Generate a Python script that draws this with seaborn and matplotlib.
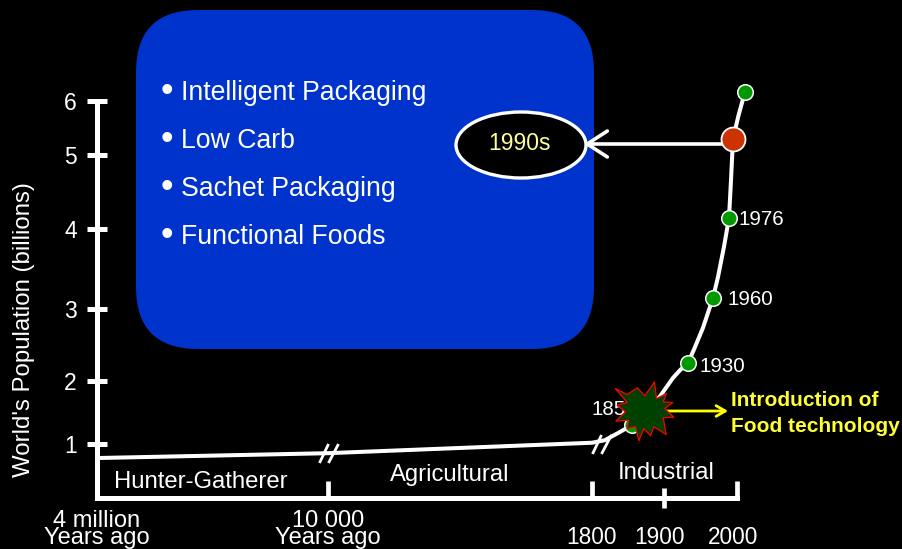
import numpy as np
import pandas as pd
import matplotlib
matplotlib.use("Agg")
import matplotlib.pyplot as plt
import seaborn as sns
from matplotlib.patches import FancyBboxPatch, Ellipse
from matplotlib.path import Path
from matplotlib.transforms import Affine2D, ScaledTranslation

# Population curve: calendar year and world population in billions
curve_years = [-4000000, -8000, 1800, 1816, 1832, 1850, 1878, 1894, 1911, 1920, 1930, 1938,
               1948, 1960, 1965, 1971, 1976, 1983, 1990, 2002, 2010]
curve_pop = [0.74, 0.83, 1.02, 1.06, 1.17, 1.30, 1.59, 1.76, 2.04, 2.15, 2.25, 2.46,
             2.74, 3.14, 3.40, 3.78, 4.15, 4.66, 5.30, 5.74, 6.17]

# Highlighted points on the curve
mark_years = [1850, 1930, 1960, 1976, 2010]
mark_pop = [1.30, 2.25, 3.14, 4.15, 6.17]
mark_labels = ["1850", "1930", "1960", "1976", ""]
highlight_year = 1990
highlight_pop = 5.30
food_tech_year = 1871
food_tech_pop = 1.56
break_years = [-8000, 1811]
break_pop = [0.84, 1.00]

# Axis ticks and text
pop_ticks = [1, 2, 3, 4, 5, 6]
year_ticks = [-4000000, -8000, 1800, 2000]
year_tick_labels = ["4 million\nYears ago", "10 000\nYears ago", "1800", "2000"]
minor_year_tick = 1900
eras = ["Hunter-Gatherer", "Agricultural", "Industrial"]
trends = ["Intelligent Packaging", "Low Carb", "Sachet Packaging", "Functional Foods"]

W, H = 903, 549
# The axes are schematic: each axis runs through its own piecewise scale
X_KNOTS_YEAR = [-5.7e6, -4e6, -8000, 1800, 1850, 1900, 1930, 1960, 1976, 1990, 2000, 2010, 2210]
X_KNOTS_POS = [0, 97, 328, 592, 632, 664, 688, 713, 729, 733, 737, 745, 903]
Y_KNOTS_POP = [-0.95, 0, 1, 2, 3, 4, 5, 6, 7.87]
Y_KNOTS_POS = [0, 51, 105, 168, 240, 320, 394, 448, 549]


def x_fwd(v):
    return np.interp(v, X_KNOTS_YEAR, X_KNOTS_POS)


def x_inv(v):
    return np.interp(v, X_KNOTS_POS, X_KNOTS_YEAR)


def y_fwd(v):
    return np.interp(v, Y_KNOTS_POP, Y_KNOTS_POS)


def y_inv(v):
    return np.interp(v, Y_KNOTS_POS, Y_KNOTS_POP)


sns.set_theme(style="white", rc={
    "figure.facecolor": "black", "axes.facecolor": "black",
    "text.color": "white", "xtick.color": "white", "ytick.color": "white",
    "axes.edgecolor": "white", "axes.labelcolor": "white",
})
plt.rcParams["font.family"] = ["Liberation Sans", "DejaVu Sans"]

fig = plt.figure(figsize=(W / 100, H / 100), dpi=100)
ax = fig.add_axes([0, 0, 1, 1])
ax.set_xscale("function", functions=(x_fwd, x_inv))
ax.set_yscale("function", functions=(y_fwd, y_inv))
ax.set_xlim(X_KNOTS_YEAR[0], X_KNOTS_YEAR[-1])
ax.set_ylim(Y_KNOTS_POP[0], Y_KNOTS_POP[-1])

# Top-left pixel frame for the annotation layer
screen = Affine2D().scale(1, -1).translate(0, H)

# Blue panel with the trend list and the decade callout
panel = FancyBboxPatch((136, 10), 458, 339, boxstyle="round,pad=0,rounding_size=62",
                       transform=screen, fc="#0033CC", ec="none", zorder=1)
ax.add_patch(panel)
for i, item in enumerate(trends):
    y = 93 + 48 * i
    ax.text(160.5, y - 1, "•", transform=screen, fontsize=26, va="center", ha="left", zorder=2)
    ax.text(181, y, item, transform=screen, fontsize=19.2, va="center", ha="left", zorder=2)
ax.add_patch(Ellipse((521, 145), 130, 66, transform=screen, fc="black", ec="white",
                     lw=2.4, zorder=2))
ax.text(520, 144, "1990s", transform=screen, fontsize=16.5, color="#FFFF99",
        va="center", ha="center", zorder=3)

# Era names
for name, x, y in zip(eras, [201, 450, 666], [482, 475, 473]):
    ax.text(x, y, name, transform=screen, fontsize=17.2, ha="center", va="center", zorder=2)

# Population curve and its points
curve = pd.DataFrame({"year": curve_years, "population": curve_pop})
sns.lineplot(data=curve, x="year", y="population", sort=False, errorbar=None,
             color="white", linewidth=2.9, ax=ax, zorder=3, solid_capstyle="round")
marks = pd.DataFrame({"year": mark_years, "population": mark_pop})
sns.scatterplot(data=marks, x="year", y="population", color="#009900", s=125,
                edgecolor="white", linewidth=1.1, ax=ax, zorder=4, legend=False)

# Axis frame
ax.spines["top"].set_visible(False)
ax.spines["right"].set_visible(False)
ax.spines["left"].set_position(("data", -4000000))
ax.spines["left"].set_bounds(0, 6)
ax.spines["bottom"].set_position(("data", 0))
ax.spines["bottom"].set_bounds(-4000000, 2000)
ax.spines["left"].set_linewidth(3.6)
ax.spines["bottom"].set_linewidth(3.6)

ax.set_yticks(pop_ticks)
ax.set_yticklabels([str(p) for p in pop_ticks], fontsize=16.5)
ax.tick_params(axis="y", which="major", left=True, direction="inout", length=15, width=3.6, pad=7)
ax.set_xticks(year_ticks)
ax.set_xticklabels(year_tick_labels, fontsize=17, linespacing=0.74)
ax.set_xticks([minor_year_tick], minor=True)
ax.set_xticklabels([str(minor_year_tick)], minor=True, fontsize=16.3)
ax.tick_params(axis="x", which="major", bottom=True, direction="in", length=12, width=3.4)
ax.tick_params(axis="x", which="minor", bottom=True, direction="inout", length=15, width=3.4, pad=12.5)
major_ticks = ax.xaxis.get_major_ticks()
for tick, pad in zip(major_ticks, [8.5, 8.5, 20, 20]):
    tick.set_pad(pad)
for tick in major_ticks[2:]:
    tick.label1.set_fontsize(16.3)
shift_left = ScaledTranslation(-4 / 100, 0, fig.dpi_scale_trans)
for label in (major_ticks[-1].label1, ax.xaxis.get_minor_ticks()[0].label1):
    label.set_transform(label.get_transform() + shift_left)

ax.set_xlabel("")
ax.set_ylabel("World's Population (billions)", fontsize=17.3)
ax.yaxis.set_label_coords(35 / W, 1 - 330 / H)

# Decade labels beside the points
offsets = [(-40, 16), (12, -3), (15, -2), (10, -2), (0, 0)]
for yr, pop, text, off in zip(mark_years, mark_pop, mark_labels, offsets):
    if text:
        ax.annotate(text, (yr, pop), xytext=off, textcoords="offset pixels", fontsize=14.8,
                    ha="left", va="center", zorder=2.5)

# Axis-break marks on the curve
slashes = Path([(-9, -9.5), (0, 9.5), (0, -9.5), (10, 9.5)],
               [Path.MOVETO, Path.LINETO, Path.MOVETO, Path.LINETO])
ax.plot(break_years, break_pop, ls="none", marker=slashes, ms=14.4, mew=2.0,
        mfc="none", mec="white", zorder=5)

# Callout arrow from the highlighted decade
ax.annotate("", xy=(584, 144), xycoords=screen, xytext=(725, 144), textcoords=screen,
            arrowprops=dict(arrowstyle="->,head_length=1.2,head_width=0.78", color="white",
                            lw=2.6, shrinkA=0, shrinkB=0), zorder=3)
ax.scatter([highlight_year], [highlight_pop], s=298, color="#CC3300", edgecolor="white",
           linewidth=1.3, zorder=4)

# Food-technology burst and its label
ax.annotate("", xy=(728, 411), xycoords=screen, xytext=(665, 411), textcoords=screen,
            arrowprops=dict(arrowstyle="->,head_length=0.55,head_width=0.32", color="#FFFF00",
                            lw=2.0, shrinkA=0, shrinkB=0), zorder=5)
burst_outline = [(-30.3, 21), (-18.3, 15), (-8.3, 21.7), (-0.7, 13.7), (9, 27.7), (11, 11),
                 (21, 16), (17.7, 7.7), (27.3, 7), (19.3, 1), (28.3, -7.7), (17.7, -8.3),
                 (20.7, -25), (8.3, -17.3), (5, -26.3), (-1.7, -19), (-6.7, -31.3), (-10, -17.3),
                 (-18.3, -19), (-16.7, -10.7), (-29.7, -11.7), (-20, -2.3), (-28.3, 4.3), (-18.3, 7)]
burst = Path(burst_outline + [burst_outline[0]], closed=True)
ax.scatter([food_tech_year], [food_tech_pop], marker=burst, s=45 ** 2, color="#004000",
           edgecolor="#FF0000", linewidth=0.9, zorder=6)
ax.text(731, 401, "Introduction of", transform=screen, fontsize=15, fontweight="bold",
        color="#FFFF33", ha="left", va="center", zorder=6)
ax.text(731, 426, "Food technology", transform=screen, fontsize=15, fontweight="bold",
        color="#FFFF33", ha="left", va="center", zorder=6)

fig.savefig("out.png", dpi=100, facecolor="black")
